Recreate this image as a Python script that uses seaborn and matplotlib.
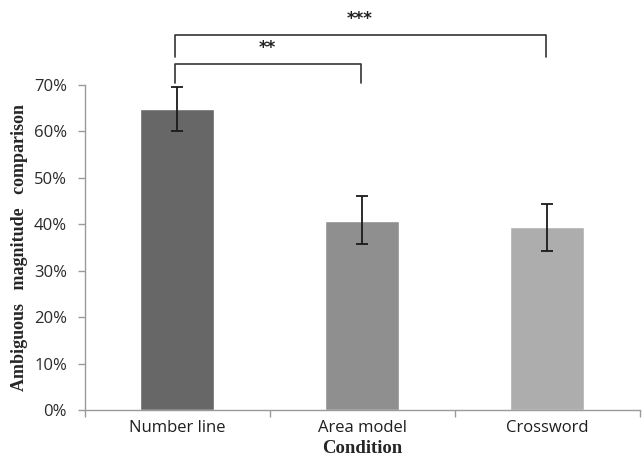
import matplotlib
matplotlib.use("Agg")
import matplotlib.pyplot as plt
import seaborn as sns
import pandas as pd
from matplotlib.ticker import PercentFormatter, FixedLocator

conditions = ["Number line", "Area model", "Crossword"]
means = [0.648, 0.407, 0.395]
err_low = [0.047, 0.050, 0.053]
err_high = [0.047, 0.054, 0.049]
bar_colors = ["#676767", "#8f8f8f", "#adadad"]

# significance brackets: (left, right, label)
comparisons = [(0, 1, "**"), (0, 2, "***")]

df = pd.DataFrame({"condition": conditions, "mean": means})

sns.set_style("white")
plt.rcParams["font.family"] = ["Open Sans", "DejaVu Sans"]

fig = plt.figure(figsize=(6.43, 4.55), dpi=100)
ax = fig.add_axes([0.1322, 0.0989, 0.863, 0.7143])

sns.barplot(data=df, x="condition", y="mean", hue="condition",
            palette=bar_colors, legend=False, width=0.4, errorbar=None,
            saturation=1, ax=ax)
ax.errorbar(range(len(conditions)), means, yerr=[err_low, err_high],
            fmt="none", ecolor="#1a1a1a", elinewidth=1.3, capsize=4, capthick=1.3)

ax.set_ylim(0, 0.7)
ax.set_xlim(-0.5, 2.5)
ax.yaxis.set_major_formatter(PercentFormatter(1.0, decimals=0))
ax.set_yticks([i / 10 for i in range(8)])
ax.xaxis.set_minor_locator(FixedLocator([-0.5, 0.5, 1.5, 2.5]))
ax.tick_params(axis="x", which="major", length=0, pad=7, labelsize=12, colors="#1e1e1e")
ax.tick_params(axis="x", which="minor", length=5, color="#9a9a9a", width=1, bottom=True)
ax.tick_params(axis="y", length=5, color="#9a9a9a", width=1, left=True,
               labelsize=12, labelcolor="#2a2a2a", pad=8)

for side in ["top", "right"]:
    ax.spines[side].set_visible(False)
for side in ["left", "bottom"]:
    ax.spines[side].set_color("#9a9a9a")
    ax.spines[side].set_linewidth(1)

ax.set_xlabel("Condition", family="Liberation Serif", weight="bold", fontsize=13.5)
ax.xaxis.set_label_coords(0.5, -0.117)
ax.xaxis.label.set_va("center")
ax.set_ylabel("Ambiguous   magnitude   comparison", family="Liberation Serif",
              weight="bold", fontsize=13, labelpad=4)

# brackets drawn above the axes
levels = [(0.746, 0.705, 0.780), (0.808, 0.761, 0.843)]
for (a, b, label), (top, foot, ty) in zip(comparisons, levels):
    ax.plot([a - 0.015, a - 0.015, b - 0.01, b - 0.01], [foot, top, top, foot],
            color="#333333", lw=1.2, clip_on=False)
    ax.text((a + b) / 2 - 0.015, ty, label, ha="center", va="center", fontsize=12,
            weight="bold", family="DejaVu Sans", color="#222222")

fig.savefig("out.png", dpi=100)
